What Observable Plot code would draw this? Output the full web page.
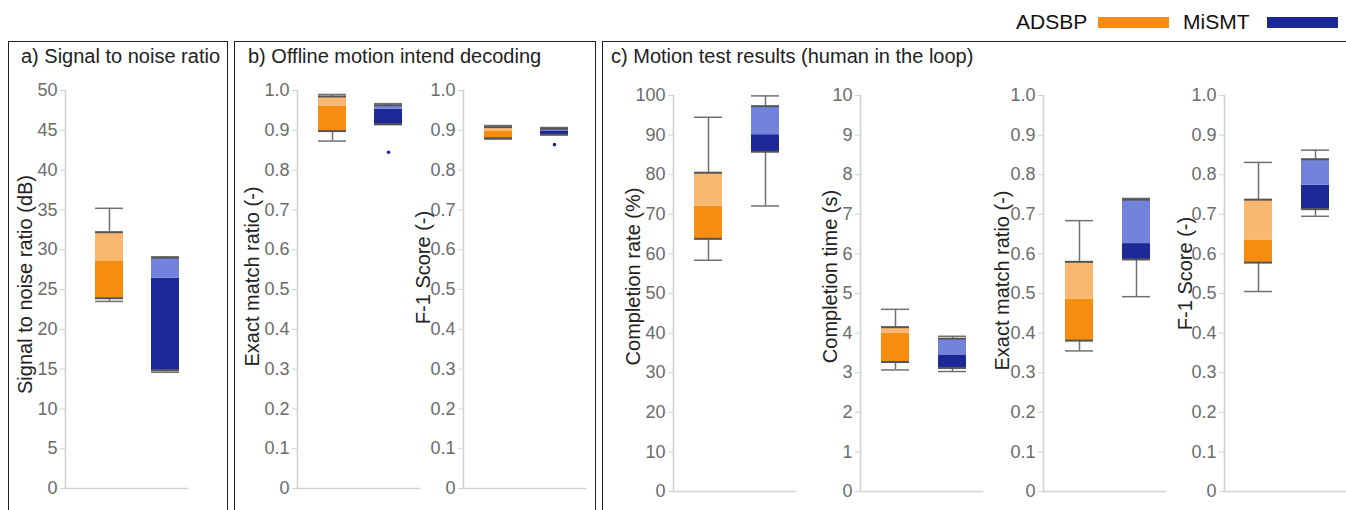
<!DOCTYPE html>
<html><head><meta charset="utf-8">
<script src="https://cdn.jsdelivr.net/npm/d3@7"></script>
<script src="https://cdn.jsdelivr.net/npm/@observablehq/plot@0.6"></script>
<style>
html,body{margin:0;padding:0;background:#fff;}
#root{position:relative;width:1346px;height:510px;overflow:hidden;font-family:"Liberation Sans",Arial,sans-serif;}
.panel{position:absolute;border:1.5px solid #222;box-sizing:border-box;}
.title{position:absolute;font-size:20px;line-height:20px;color:#222;white-space:nowrap;}
.legtext{position:absolute;font-size:21px;line-height:21px;color:#111;white-space:nowrap;}
.legsw{position:absolute;height:11px;width:71px;}
.sub{position:absolute;top:0;}
</style></head><body><div id="root"></div>
<script>
// groups
const groups = ["ADSBP", "MiSMT"];
// each stats array: [lower whisker, Q1, median, Q3, upper whisker]
const snrADSBP = [23.5, 23.9, 28.6, 32.2, 35.2];
const snrMiSMT = [14.6, 14.85, 26.4, 29.0, 29.1];
const offEmrADSBP = [0.873, 0.898, 0.960, 0.985, 0.990];
const offEmrMiSMT = [0.915, 0.915, 0.953, 0.963, 0.967];
const offEmrOutliers = [["MiSMT", 0.845]];
const offF1ADSBP = [0.878, 0.880, 0.897, 0.908, 0.912];
const offF1MiSMT = [0.889, 0.889, 0.897, 0.904, 0.907];
const offF1Outliers = [["MiSMT", 0.864]];
const rateADSBP = [58.4, 63.8, 72.0, 80.5, 94.5];
const rateMiSMT = [72.1, 85.8, 90.1, 97.3, 99.9];
const timeADSBP = [3.07, 3.27, 4.0, 4.15, 4.6];
const timeMiSMT = [3.03, 3.12, 3.45, 3.86, 3.92];
const onEmrADSBP = [0.355, 0.381, 0.486, 0.580, 0.684];
const onEmrMiSMT = [0.492, 0.586, 0.626, 0.737, 0.740];
const onF1ADSBP = [0.505, 0.578, 0.634, 0.737, 0.831];
const onF1MiSMT = [0.695, 0.713, 0.773, 0.839, 0.862];

// tick values
const snrTicks = [0, 5, 10, 15, 20, 25, 30, 35, 40, 45, 50];
const ratioTicks = [0, 0.1, 0.2, 0.3, 0.4, 0.5, 0.6, 0.7, 0.8, 0.9, 1.0];
const rateTicks = [0, 10, 20, 30, 40, 50, 60, 70, 80, 90, 100];
const timeTicks = [0, 1, 2, 3, 4, 5, 6, 7, 8, 9, 10];

// texts
const panelTitles = ["a) Signal to noise ratio", "b) Offline motion intend decoding", "c) Motion test results (human in the loop)"];
const axisLabels = ["Signal to noise ratio (dB)", "Exact match ratio (-)", "F-1 Score (-)", "Completion rate (%)", "Completion time (s)", "Exact match ratio (-)", "F-1 Score (-)"];

// styles
const darkCols = ["#F68C10", "#1B2896"];
const lightCols = ["#F9B870", "#7383DC"];
const FONT = '"Liberation Sans", Arial, sans-serif';
const AX = "#d2d2d2";
const intFmt = d => String(d);
const decFmt = d => d === 0 ? "0" : d.toFixed(1);

const root = document.getElementById("root");
function el(cls, css, text) {
  const e = document.createElement("div");
  e.className = cls;
  Object.assign(e.style, css);
  if (text != null) e.textContent = text;
  root.appendChild(e);
  return e;
}

// panel borders
el("panel", {left: "8px", top: "41px", width: "220px", height: "500px"});
el("panel", {left: "234px", top: "41px", width: "362px", height: "500px"});
el("panel", {left: "602px", top: "41px", width: "760px", height: "500px"});
// titles
el("title", {left: "21px", top: "46px"}, panelTitles[0]);
el("title", {left: "248px", top: "46px"}, panelTitles[1]);
el("title", {left: "611px", top: "46px"}, panelTitles[2]);
// legend
el("legtext", {left: "1016px", top: "11px"}, groups[0]);
el("legsw", {left: "1098px", top: "17px", background: darkCols[0]});
el("legtext", {left: "1183px", top: "11px"}, groups[1]);
el("legsw", {left: "1267px", top: "17px", background: darkCols[1]});

function sub({a, b, outliers = [], ticks, fmt, label, axisX, top, bottom, off1, off2, labelDx, labelDy}) {
  const ML = 72, PW = 122, MR = 8, H = 510, BW = 28;
  const rows = [a, b].map((s, i) => ({g: groups[i], lo: s[0], q1: s[1], med: s[2], q3: s[3], hi: s[4], dark: darkCols[i], light: lightCols[i]}));
  const outs = outliers.map(([g, v]) => ({g, v, dark: darkCols[groups.indexOf(g)]}));
  const p = 1 - BW / (off2 - off1);
  const svg = Plot.plot({
    width: ML + PW + MR, height: H,
    marginLeft: ML, marginRight: MR, marginTop: top, marginBottom: H - bottom,
    style: {background: "transparent", overflow: "visible", fontFamily: FONT, maxWidth: "none"},
    x: {type: "band", domain: groups, range: [ML + off1 - BW / 2, ML + off2 + BW / 2], paddingInner: p, paddingOuter: 0, axis: null},
    y: {domain: [0, ticks[ticks.length - 1]]},
    color: {type: "identity"},
    marks: [
      Plot.frame({anchor: "left", stroke: AX, strokeWidth: 1.6}),
      Plot.frame({anchor: "bottom", stroke: AX, strokeWidth: 1.6}),
      Plot.axisY({ticks, tickFormat: fmt, tickSize: 5, tickPadding: 3, stroke: AX, fill: "#6b6b6b", fontSize: 18, label: null}),
      Plot.text([label], {text: d => d, frameAnchor: "left", textAnchor: "middle", lineAnchor: "middle", rotate: -90, dx: -labelDx, dy: labelDy, fontSize: 20, fill: "#222"}),
      Plot.ruleX(rows, {x: "g", y1: "lo", y2: "q1", stroke: "#707070", strokeWidth: 1.5}),
      Plot.ruleX(rows, {x: "g", y1: "q3", y2: "hi", stroke: "#707070", strokeWidth: 1.5}),
      Plot.tickY(rows, {x: "g", y: "lo", stroke: "#707070", strokeWidth: 1.5}),
      Plot.tickY(rows, {x: "g", y: "hi", stroke: "#707070", strokeWidth: 1.5}),
      Plot.barY(rows, {x: "g", y1: "q1", y2: "med", fill: "dark"}),
      Plot.barY(rows, {x: "g", y1: "med", y2: "q3", fill: "light"}),
      Plot.tickY(rows, {x: "g", y: "q1", stroke: "#555", strokeWidth: 2}),
      Plot.tickY(rows, {x: "g", y: "q3", stroke: "#555", strokeWidth: 2}),
      Plot.dot(outs, {x: "g", y: "v", r: 1.8, fill: "dark", stroke: null})
    ]
  });
  const wrap = el("sub", {left: (axisX - ML) + "px"});
  wrap.appendChild(svg);
}

sub({a: snrADSBP, b: snrMiSMT, ticks: snrTicks, fmt: intFmt, label: axisLabels[0], axisX: 65, top: 90, bottom: 488, off1: 44, off2: 100, labelDx: 40, labelDy: -5});
sub({a: offEmrADSBP, b: offEmrMiSMT, outliers: offEmrOutliers, ticks: ratioTicks, fmt: decFmt, label: axisLabels[1], axisX: 297, top: 90, bottom: 488, off1: 35, off2: 91, labelDx: 45, labelDy: -13});
sub({a: offF1ADSBP, b: offF1MiSMT, outliers: offF1Outliers, ticks: ratioTicks, fmt: decFmt, label: axisLabels[2], axisX: 463, top: 90, bottom: 488, off1: 35, off2: 91, labelDx: 40, labelDy: -22});
sub({a: rateADSBP, b: rateMiSMT, ticks: rateTicks, fmt: intFmt, label: axisLabels[3], axisX: 673, top: 95, bottom: 491, off1: 35, off2: 92, labelDx: 40, labelDy: -17});
sub({a: timeADSBP, b: timeMiSMT, ticks: timeTicks, fmt: intFmt, label: axisLabels[4], axisX: 860, top: 95, bottom: 491, off1: 35, off2: 92, labelDx: 30, labelDy: -17});
sub({a: onEmrADSBP, b: onEmrMiSMT, ticks: ratioTicks, fmt: decFmt, label: axisLabels[5], axisX: 1043, top: 95, bottom: 491, off1: 36, off2: 93, labelDx: 41, labelDy: -13});
sub({a: onF1ADSBP, b: onF1MiSMT, ticks: ratioTicks, fmt: decFmt, label: axisLabels[6], axisX: 1224, top: 95, bottom: 491, off1: 34, off2: 91, labelDx: 39, labelDy: -20});
</script></body></html>
